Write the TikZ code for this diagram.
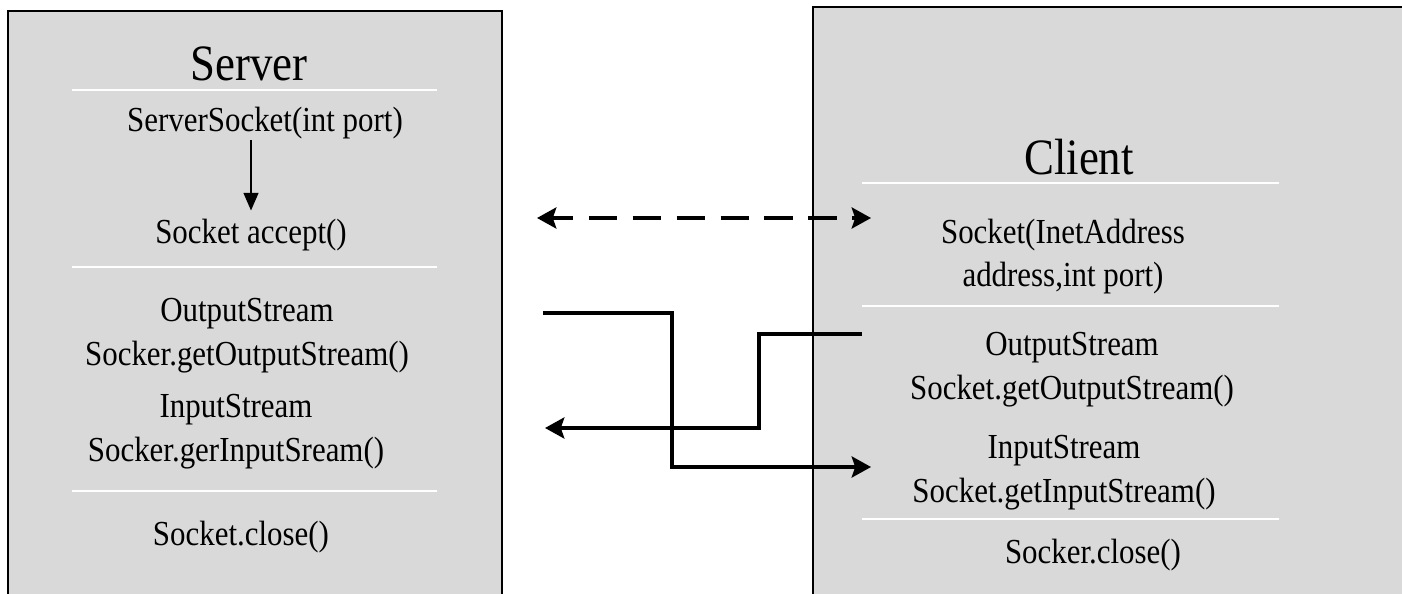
\documentclass[tikz,border=0pt]{standalone}
\usepackage{fontspec}
\setmainfont{Liberation Serif}[FakeStretch=0.88]
\usetikzlibrary{arrows.meta,positioning}

\definecolor{panelgray}{HTML}{D9D9D9}
\tikzset{
  panel/.style={draw=black,line width=1.1pt,fill=panelgray},
  divider/.style={draw=white,line width=1pt},
  title/.style={font=\fontsize{29}{35}\selectfont,inner sep=0pt,anchor=base},
  call/.style={font=\fontsize{20}{24.5}\selectfont,align=center,inner sep=0pt,anchor=base},
  flow/.style={line width=1.9pt,-{Stealth[length=11pt,width=12pt,inset=2pt]}},
  link/.style={line width=1.9pt,dash pattern=on 16pt off 9pt,dash phase=4pt,
    {Stealth[length=11pt,width=12pt,inset=2pt]}-{Stealth[length=11pt,width=12pt,inset=2pt]}},
  seq/.style={line width=0.75pt,-{Triangle[length=10pt,width=8.5pt]},shorten >=5pt},
}

\begin{document}
\begin{tikzpicture}[x=0.02cm,y=-0.02cm]
  \useasboundingbox (0,0) rectangle (1402,594);

  % server side
  \draw[panel] (8,11) rectangle (502,620);
  \node[title] (srv) at (249,81) {Server};
  \draw[divider] (72,90) -- (437,90);
  \node[call] (ss)   at (265,132) {ServerSocket(int port)};
  \node[call] (acc)  at (251,244) {Socket accept()};
  \draw[divider] (72,267) -- (437,267);
  \node[call] (sout) at (247,365) {OutputStream\\Socker.getOutputStream()};
  \node[call] (sin)  at (236,461) {InputStream\\Socker.gerInputSream()};
  \draw[divider] (72,491) -- (437,491);
  \node[call] (sclose) at (241,545) {Socket.close()};

  % client side
  \draw[panel] (813,7) rectangle (1420,620);
  \node[title] (cli) at (1079,175) {Client};
  \draw[divider] (862,183) -- (1279,183);
  \node[call] (csock) at (1063,287) {Socket(InetAddress\\address,int port)};
  \draw[divider] (862,306) -- (1279,306);
  \node[call] (cout) at (1072,399) {OutputStream\\Socket.getOutputStream()};
  \node[call] (cin)  at (1064,502) {InputStream\\Socket.getInputStream()};
  \draw[divider] (862,519) -- (1279,519);
  \node[call] (cclose) at (1093,563) {Socker.close()};

  % ports
  \coordinate (acc-r)   at (537,218);
  \coordinate (csock-l) at (871,218);
  \coordinate (sout-r)  at (543,313);
  \coordinate (cin-l)   at (871,467);
  \coordinate (cout-l)  at (862,334);
  \coordinate (sin-r)   at (545,428);

  \draw[seq] (ss.south -| acc.north) -- (acc.north);
  \draw[link] (acc-r) -- (csock-l);
  \draw[flow] (sout-r) -- ++(129,0) |- (cin-l);
  \draw[flow] (cout-l) -- ++(-103,0) |- (sin-r);
\end{tikzpicture}
\end{document}
